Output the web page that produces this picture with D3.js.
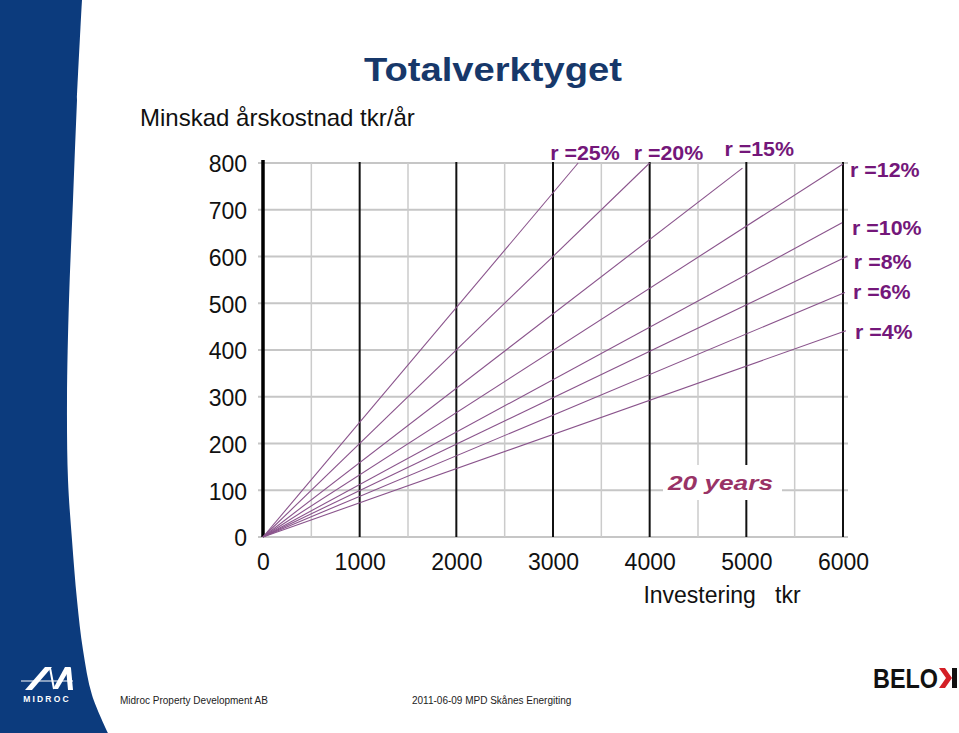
<!DOCTYPE html>
<html>
<head>
<meta charset="utf-8">
<script src="https://cdn.jsdelivr.net/npm/d3@7"></script>
<style>
  html, body { margin: 0; padding: 0; background: #fff; }
  svg { display: block; }
  text { font-family: "Liberation Sans", Arial, sans-serif; }
</style>
</head>
<body>
<svg id="chart" width="959" height="733"></svg>
<script>
// ---------------- DATA ----------------
const xTicks = [0, 1000, 2000, 3000, 4000, 5000, 6000];
const xMinorTicks = [500, 1500, 2500, 3500, 4500, 5500];
const yTicks = [0, 100, 200, 300, 400, 500, 600, 700, 800];
const rateLabels = ["r =25%", "r =20%", "r =15%", "r =12%", "r =10%", "r =8%", "r =6%", "r =4%"];
// each line runs from (0,0) to (endInvest, endSaving)
const endInvest = [3260, 4000, 4960, 6000, 5990, 6040, 6020, 6030];
const endSaving = [800, 800, 789, 798, 672, 600, 523, 441];

const titleText = "Totalverktyget";
const yAxisTitle = "Minskad årskostnad tkr/år";
const xAxisTitle = "Investering   tkr";
const noteText = "20 years";
const footerLeft = "Midroc Property Development AB";
const footerMid = "2011-06-09 MPD Skånes Energiting";

// ---------------- LAYOUT ----------------
const svg = d3.select("#chart");
const x = d3.scaleLinear().domain([0, 6000]).range([263, 843]);
const y = d3.scaleLinear().domain([0, 800]).range([537, 163]);

// left blue swoosh
const swooshEdge = [[82,0],[77,100],[73,200],[69,300],[67,400],[68,480],[72,540],[77,600],[83,650],[92,695],[108,733]];
const edgePath = d3.line().curve(d3.curveCatmullRom)(swooshEdge);
svg.append("path")
  .attr("d", "M0,0 L" + edgePath.slice(1) + " L0,733 Z")
  .attr("fill", "#0c3b7d");

// MIDROC logo
const logo = svg.append("g").attr("fill", "#fff").attr("stroke", "none");
logo.append("line").attr("x1", 21).attr("y1", 681).attr("x2", 73).attr("y2", 681)
  .attr("stroke", "#fff").attr("stroke-width", 1.2);
logo.append("polygon").attr("points", "25,690 32,690 52,667 45,667");
logo.append("line").attr("x1", 50).attr("y1", 668).attr("x2", 54).attr("y2", 689)
  .attr("stroke", "#fff").attr("stroke-width", 2);
logo.append("polygon").attr("points", "53,689 58,689 71,667 65,667");
logo.append("polygon").attr("points", "66,668 71,668 73,690 68,690");
logo.append("text").attr("x", 47).attr("y", 702).attr("text-anchor", "middle")
  .attr("font-size", 8.5).attr("font-weight", "bold").attr("letter-spacing", 2.2)
  .attr("fill", "#fff").text("MIDROC");

// title
svg.append("text").attr("x", 364).attr("y", 81)
  .attr("font-size", 34).attr("font-weight", "bold").attr("fill", "#17386a")
  .attr("textLength", 258).attr("lengthAdjust", "spacingAndGlyphs")
  .text(titleText);

svg.append("text").attr("x", 140).attr("y", 126)
  .attr("font-size", 24).attr("fill", "#111").text(yAxisTitle);

// horizontal gridlines
const grid = svg.append("g");
grid.selectAll("line.h").data(yTicks).enter().append("line")
  .attr("x1", x(0) - 5).attr("x2", x(6000) + 5)
  .attr("y1", d => y(d)).attr("y2", d => y(d))
  .attr("stroke", "#c6c6c6").attr("stroke-width", 2);

// minor verticals
grid.selectAll("line.vm").data(xMinorTicks).enter().append("line")
  .attr("x1", d => x(d)).attr("x2", d => x(d))
  .attr("y1", y(800)).attr("y2", y(0))
  .attr("stroke", "#cbcbcb").attr("stroke-width", 1.5);

// major verticals
grid.selectAll("line.vM").data(xTicks.filter(d => d > 0)).enter().append("line")
  .attr("x1", d => x(d)).attr("x2", d => x(d))
  .attr("y1", y(800) - 1).attr("y2", y(0))
  .attr("stroke", "#111").attr("stroke-width", 2);

// y axis line (thick)
svg.append("line").attr("x1", x(0)).attr("x2", x(0))
  .attr("y1", y(800) - 3).attr("y2", y(0))
  .attr("stroke", "#000").attr("stroke-width", 3.5);

// "20 years" box
svg.append("rect").attr("x", 663).attr("y", 465).attr("width", 119).attr("height", 35).attr("fill", "#fff");
svg.append("text").attr("x", 668).attr("y", 490)
  .attr("font-family", "'DejaVu Sans', sans-serif")
  .attr("font-size", 21).attr("font-weight", "bold").attr("font-style", "italic")
  .attr("fill", "#993366").attr("textLength", 105).attr("lengthAdjust", "spacingAndGlyphs")
  .text(noteText);

// series lines
const series = rateLabels.map((r, i) => ({ label: r, pts: [[0, 0], [endInvest[i], endSaving[i]]] }));
const line = d3.line().x(d => x(d[0])).y(d => y(d[1]));
svg.append("g").selectAll("path").data(series).enter().append("path")
  .attr("d", d => line(d.pts))
  .attr("fill", "none").attr("stroke", "#8a548c").attr("stroke-width", 1.1);

// series labels (offsets from line end, in pixels)
const labelOffsets = [[-28, -3], [-16, -3], [-18, -12], [7, 13], [10, 12], [7, 12], [8, 7], [9, 8]];
svg.append("g").selectAll("text").data(series).enter().append("text")
  .attr("transform", (d, i) => {
    const e = d.pts[1];
    return `translate(${x(e[0]) + labelOffsets[i][0]},${y(e[1]) + labelOffsets[i][1]}) scale(1.07,1)`;
  })
  .attr("font-size", 20).attr("font-weight", "bold").attr("fill", "#74177a")
  .text(d => d.label);

// y axis tick labels
const yAxis = d3.axisLeft(y).tickValues(yTicks).tickSize(0).tickPadding(16);
const gy = svg.append("g").attr("transform", `translate(${x(0)},0)`).call(yAxis);
gy.select(".domain").remove();
gy.selectAll("text").attr("font-size", 23).attr("fill", "#111")
  .attr("font-family", "'Liberation Sans', Arial, sans-serif").attr("dy", "0.38em");

// x axis tick labels
const xAxis = d3.axisBottom(x).tickValues(xTicks).tickSize(0).tickPadding(17).tickFormat(d3.format("d"));
const gx = svg.append("g").attr("transform", `translate(0,${y(0)})`).call(xAxis);
gx.select(".domain").remove();
gx.selectAll("text").attr("font-size", 23).attr("fill", "#111")
  .attr("font-family", "'Liberation Sans', Arial, sans-serif");

svg.append("text").attr("x", 722).attr("y", 603).attr("text-anchor", "middle")
  .attr("font-size", 23).attr("fill", "#111").style("white-space", "pre")
  .attr("xml:space", "preserve").text(xAxisTitle);

// footer
svg.append("text").attr("x", 120).attr("y", 704).attr("font-size", 10).attr("fill", "#222").text(footerLeft);
svg.append("text").attr("x", 412).attr("y", 704).attr("font-size", 10).attr("fill", "#222").text(footerMid);

// BELOK logo
const belok = svg.append("g");
belok.append("text").attr("x", 873).attr("y", 688).attr("font-size", 27).attr("font-weight", "bold")
  .attr("fill", "#111").attr("textLength", 65).attr("lengthAdjust", "spacingAndGlyphs").text("BELO");
belok.append("polygon").attr("points", "939,668 945,668 952,678 945,688 939,688 946,678").attr("fill", "#d42027");
belok.append("rect").attr("x", 952).attr("y", 668).attr("width", 5).attr("height", 20).attr("fill", "#111");
</script>
</body>
</html>
